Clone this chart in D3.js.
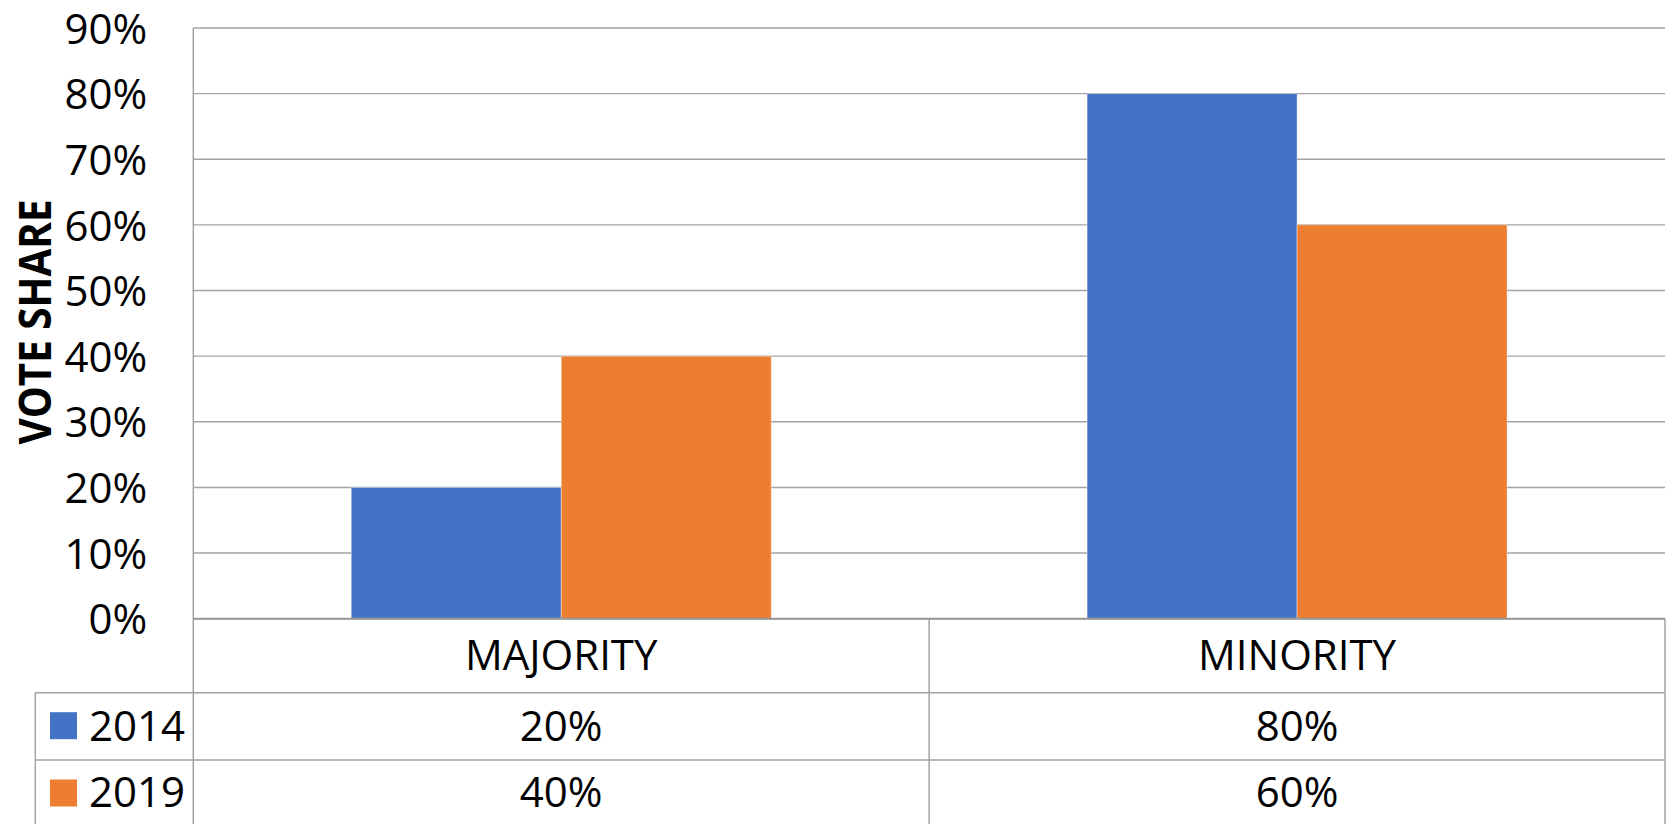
<!DOCTYPE html>
<html>
<head>
<meta charset="utf-8">
<script src="https://cdn.jsdelivr.net/npm/d3@7"></script>
<style>
  html, body { margin: 0; padding: 0; background: #fff; overflow: hidden; }
  text { font-family: "Open Sans", "Liberation Sans", sans-serif; fill: #000; }
</style>
</head>
<body>
<svg id="chart" width="1667" height="824"></svg>
<script>
const categories = ["MAJORITY", "MINORITY"];
const seriesNames = ["2014", "2019"];
const values2014 = [0.20, 0.80];
const values2019 = [0.40, 0.60];
const seriesColors = ["#4472C4", "#ED7D31"];
const yTicks = [0, 0.1, 0.2, 0.3, 0.4, 0.5, 0.6, 0.7, 0.8, 0.9];
const yTitle = "VOTE SHARE";

const seriesValues = [values2014, values2019];

(function () {
const W = 1667, H = 824;
const pLeft = 193.3, pRight = 1665, pTop = 28, pBottom = 618.7;
const row1 = 692.7, row2 = 760, legendLeft = 35.3;
const grid = "#a3a3a3";

const svg = d3.select("#chart");
const fmt = d3.format(".0%");

const y = d3.scaleLinear().domain([0, 0.9]).range([pBottom, pTop]);
const x = d3.scaleBand().domain(categories).range([pLeft, pRight]).paddingInner(0).paddingOuter(0);
const xs = d3.scaleBand().domain(seriesNames).range([0, x.bandwidth()]).paddingInner(0).paddingOuter(0.752);

// gridlines
svg.append("g").selectAll("line").data(yTicks.filter(t => t > 0)).join("line")
  .attr("x1", pLeft).attr("x2", pRight)
  .attr("y1", d => y(d)).attr("y2", d => y(d))
  .attr("stroke", grid).attr("stroke-width", 1.4);

// bars
const data = [];
categories.forEach((c, i) => seriesNames.forEach((s, j) => data.push({c, s, v: seriesValues[j][i], color: seriesColors[j]})));
svg.append("g").selectAll("rect").data(data).join("rect")
  .attr("x", d => x(d.c) + xs(d.s))
  .attr("width", xs.bandwidth())
  .attr("y", d => y(d.v))
  .attr("height", d => y(0) - y(d.v))
  .attr("fill", d => d.color)
  .attr("stroke", "#ffffff").attr("stroke-opacity", 0.5).attr("stroke-width", 0.8);

// y tick labels via axis
const yAxis = svg.append("g").attr("transform", `translate(${pLeft},0)`)
  .call(d3.axisLeft(y).tickValues(yTicks).tickFormat(fmt).tickSize(0).tickPadding(46));
yAxis.select(".domain").remove();
yAxis.selectAll("text").attr("font-size", 42).attr("font-family", "Open Sans").attr("fill", "#000").attr("dy", "0.36em");

// y title
svg.append("text")
  .attr("transform", `translate(51,322) rotate(-90)`)
  .attr("text-anchor", "middle")
  .attr("font-size", 44).attr("font-weight", "bold")
  .attr("textLength", 245).attr("lengthAdjust", "spacingAndGlyphs")
  .text(yTitle);

// table lines
const lines = [
  [pLeft, pBottom, pRight, pBottom],
  [legendLeft, row1, pRight, row1],
  [legendLeft, row2, pRight, row2],
  [pLeft, pTop, pLeft, H],
  [x("MINORITY"), pBottom, x("MINORITY"), H],
  [pRight, pBottom, pRight, H],
  [legendLeft, row1, legendLeft, H]
];
svg.append("g").selectAll("line").data(lines).join("line")
  .attr("x1", d => d[0]).attr("y1", d => d[1]).attr("x2", d => d[2]).attr("y2", d => d[3])
  .attr("stroke", grid).attr("stroke-width", 1.5);
svg.append("line").attr("x1", pLeft).attr("x2", pRight).attr("y1", pBottom).attr("y2", pBottom)
  .attr("stroke", "#999").attr("stroke-width", 2);

// category labels
svg.append("g").selectAll("text").data(categories).join("text")
  .attr("x", d => x(d) + x.bandwidth() / 2)
  .attr("y", 670)
  .attr("text-anchor", "middle").attr("font-size", 42)
  .text(d => d);

// data table rows
const rowBase = [740.7, 806.7];
const rowTop = [row1, row2];
seriesNames.forEach((s, j) => {
  const g = svg.append("g");
  g.selectAll("text.v").data(categories).join("text").attr("class", "v")
    .attr("x", d => x(d) + x.bandwidth() / 2)
    .attr("y", rowBase[j])
    .attr("text-anchor", "middle").attr("font-size", 42)
    .text((d, i) => fmt(seriesValues[j][i]));
  g.append("rect")
    .attr("x", 50).attr("y", rowTop[j] + 19.5).attr("width", 27).attr("height", 27)
    .attr("fill", seriesColors[j]);
  g.append("text")
    .attr("x", 89).attr("y", rowBase[j])
    .attr("font-size", 42)
    .text(s);
});
})();
</script>
</body>
</html>
